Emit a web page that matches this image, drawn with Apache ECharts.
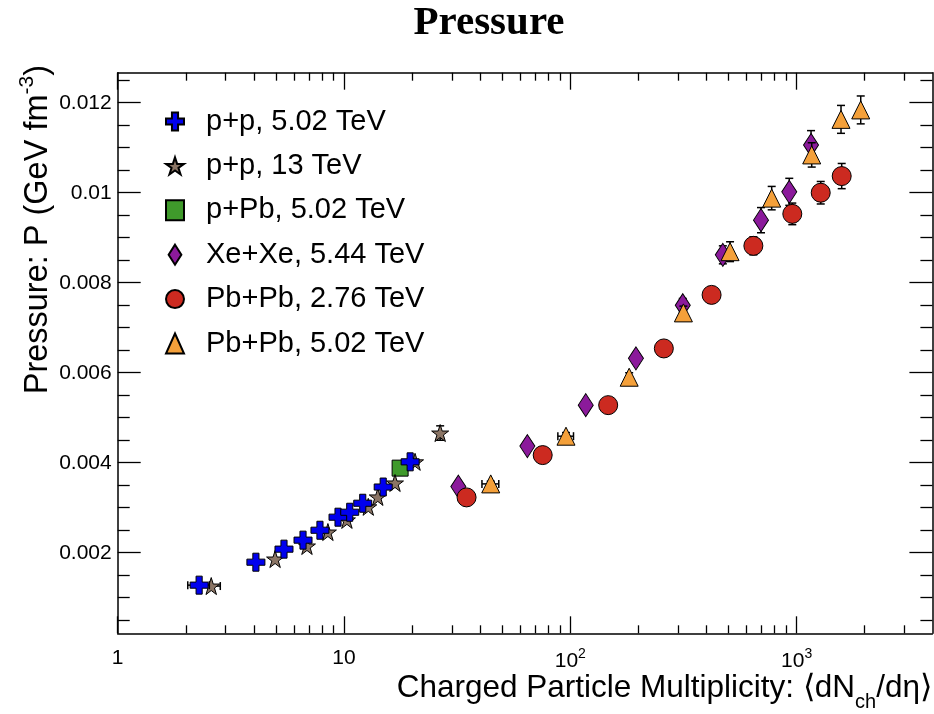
<!DOCTYPE html>
<html><head><meta charset="utf-8">
<script src="https://cdn.jsdelivr.net/npm/echarts@6/dist/echarts.min.js"></script>
<style>html,body{margin:0;padding:0;background:#fff}#c{width:934px;height:714px}</style>
</head><body><div id="c"></div>
<script>
// ---------------- data ----------------
const seriesNames = ['p+p, 5.02 TeV','p+p, 13 TeV','p+Pb, 5.02 TeV','Xe+Xe, 5.44 TeV','Pb+Pb, 2.76 TeV','Pb+Pb, 5.02 TeV'];

const pp502X = [2.29, 4.08, 5.43, 6.59, 7.83, 9.41, 10.6, 12.1, 14.9, 19.6];
const pp502Y = [0.00128, 0.00179, 0.00208, 0.00228, 0.00250, 0.00279, 0.00290, 0.00310, 0.00346, 0.00402];
const pp502YErr = [0, 0, 0, 0, 0, 0, 0, 0, 0, 0];
const pp502XErr = [0.25, 0, 0, 0, 0, 0, 0, 0, 0, 0];

const pp13X = [2.59, 4.96, 6.86, 8.49, 10.3, 12.8, 14.1, 16.8, 20.6, 26.6];
const pp13Y = [0.00126, 0.00186, 0.00215, 0.00246, 0.00273, 0.00302, 0.00324, 0.00355, 0.00402, 0.00466];
const pp13YErr = [0, 0, 0, 0, 0, 0, 0, 0, 0, 0.00016];
const pp13XErr = [0.25, 0, 0, 0, 0, 0, 0, 0, 0, 0];

const pPbX = [17.7];
const pPbY = [0.00388];
const pPbYErr = [0];
const pPbXErr = [0];

const xexeX = [32.0, 64.6, 117, 195, 314, 472, 696, 928, 1158];
const xexeY = [0.00347, 0.00437, 0.00528, 0.00632, 0.00750, 0.00862, 0.00939, 0.01002, 0.01106];
const xexeYErr = [0.00006, 0.00008, 0.0001, 0.00012, 0.00015, 0.00020, 0.00028, 0.00030, 0.00032];
const xexeXErr = [0, 0, 0, 0, 0, 0, 0, 0, 0];

const pb276X = [34.8, 75.5, 147, 259, 421, 644, 957, 1278, 1582];
const pb276Y = [0.00323, 0.00417, 0.00528, 0.00654, 0.00773, 0.00882, 0.00953, 0.01000, 0.01037];
const pb276YErr = [0.00006, 0.00008, 0.0001, 0.00013, 0.00018, 0.00020, 0.00024, 0.00025, 0.00028];
const pb276XErr = [0, 0, 0, 0, 0, 0, 0, 0, 0];

const pb502X = [44.5, 95.7, 182, 316, 508, 776, 1166, 1571, 1920];
const pb502Y = [0.00353, 0.00459, 0.00590, 0.00733, 0.00869, 0.00988, 0.01084, 0.01163, 0.01184];
const pb502YErr = [0.00006, 0.00008, 0.0001, 0.00015, 0.00022, 0.00026, 0.00027, 0.00031, 0.00031];
const pb502XErr = [3.8, 7.6, 0, 0, 0, 0, 0, 0, 0];

const xMajorTicks = [1, 10, 100, 1000];
const xMinorTicks = [2,3,4,5,6,7,8,9,20,30,40,50,60,70,80,90,200,300,400,500,600,700,800,900,2000,3000];
const yMajorTicks = [0.002, 0.004, 0.006, 0.008, 0.010, 0.012];
const yMinorTicks = [0.0005,0.001,0.0015,0.0025,0.003,0.0035,0.0045,0.005,0.0055,0.0065,0.007,0.0075,0.0085,0.009,0.0095,0.0105,0.011,0.0115,0.0125];

// ---------------- chart ----------------
const FONT = '"Liberation Sans", Arial, Helvetica, sans-serif';
const X_MIN = 1, X_MAX = Math.pow(10, 3.6);
const Y_MIN = 0.00021, Y_MAX = 0.012667;

const crossPath = 'path://M3.3,0H6.7V3.3H10V6.7H6.7V10H3.3V6.7H0V3.3H3.3Z';
const starPath = 'path://M50,0L61.2,34.6L97.6,34.6L68.1,55.9L79.4,90.5L50,69L20.6,90.5L31.9,55.9L2.4,34.6L38.8,34.6Z';
const tallDiamond = 'path://M7,0L14,11L7,22L0,11Z';

function zip(a, b) { return a.map((v, i) => [v, b[i]]); }
function zip4(a, b, c, d) { return a.map((v, i) => [v, b[i], c[i], d[i]]); }

function seg(x1, y1, x2, y2) {
  return { type: 'line', shape: { x1, y1, x2, y2 }, style: { stroke: '#000', lineWidth: 1.5 } };
}
function renderErr(params, api) {
  const x = api.value(0), y = api.value(1), ey = api.value(2), ex = api.value(3);
  const c = api.coord([x, y]);
  const cap = 4;
  const ch = [];
  if (ey > 0) {
    const t = api.coord([x, y + ey]), b = api.coord([x, y - ey]);
    ch.push(seg(c[0], t[1], c[0], b[1]), seg(c[0] - cap, t[1], c[0] + cap, t[1]), seg(c[0] - cap, b[1], c[0] + cap, b[1]));
  }
  if (ex > 0) {
    const l = api.coord([x - ex, y]), r = api.coord([x + ex, y]);
    ch.push(seg(l[0], c[1], r[0], c[1]), seg(l[0], c[1] - cap, l[0], c[1] + cap), seg(r[0], c[1] - cap, r[0], c[1] + cap));
  }
  return { type: 'group', children: ch };
}
function errSeries(xs, ys, ye, xe, z) {
  return { type: 'custom', renderItem: renderErr, data: zip4(xs, ys, ye, xe), encode: { x: 0, y: 1 },
    z: z, silent: true, clip: false };
}
function scat(name, xs, ys, symbol, size, color, z) {
  return { type: 'scatter', name, data: zip(xs, ys), symbol, symbolSize: size, z: z,
    itemStyle: { color, borderColor: '#000', borderWidth: 1, opacity: 1 },
    emphasis: { disabled: true }, silent: true };
}

const colors = { pp502: '#0000ee', pp13: '#8b7565', pPb: '#3f9a2b', xexe: '#8b1a9b', pb276: '#cc2a20', pb502: '#f4a03a' };

const baseAxis = { splitLine: { show: false }, minorTick: { show: false }, minorSplitLine: { show: false } };
function xAx(pos, major) {
  return Object.assign({}, baseAxis, {
    type: 'log', logBase: 10, min: X_MIN, max: X_MAX, position: pos,
    axisLine: { show: major, onZero: false, lineStyle: { color: '#000', width: 1.5 } },
    axisTick: { show: true, inside: true, length: major ? 17 : 8, customValues: major ? xMajorTicks : xMinorTicks,
      lineStyle: { color: '#000', width: 1.3 } },
    axisLabel: (pos === 'bottom' && major) ? {
      show: true, customValues: xMajorTicks, margin: 14, color: '#000', fontSize: 21, fontFamily: FONT,
      formatter: v => v < 100 ? String(Math.round(v)) : '10{sup|' + Math.round(Math.log10(v)) + '}',
      rich: { sup: { fontSize: 14, fontFamily: FONT, color: '#000', padding: [0, 0, 14, 0] } }
    } : { show: false }
  });
}
function yAx(pos, major) {
  return Object.assign({}, baseAxis, {
    type: 'value', min: Y_MIN, max: Y_MAX, position: pos,
    axisLine: { show: major, onZero: false, lineStyle: { color: '#000', width: 1.5 } },
    axisTick: { show: true, inside: true, length: major ? 23 : 12, customValues: major ? yMajorTicks : yMinorTicks,
      lineStyle: { color: '#000', width: 1.3 } },
    axisLabel: (pos === 'left' && major) ? {
      show: true, customValues: yMajorTicks, margin: 6, color: '#000', fontSize: 21, fontFamily: FONT,
      formatter: v => String(+v.toFixed(4))
    } : { show: false }
  });
}

const legendItems = seriesNames.map((n, i) => i === 3 ? { name: n, icon: tallDiamond } : { name: n });

const option = {
  animation: false,
  backgroundColor: '#fff',
  grid: { left: 117.7, right: 934 - 932.4, top: 72.7, bottom: 714 - 633.3, containLabel: false, outerBoundsMode: 'none' },
  xAxis: [xAx('bottom', true), xAx('bottom', false), xAx('top', true), xAx('top', false)],
  yAxis: [yAx('left', true), yAx('left', false), yAx('right', true), yAx('right', false)],
  legend: {
    data: legendItems, orient: 'vertical', left: 160, top: 102, itemWidth: 18, itemHeight: 20, itemGap: 15.4,
    selectedMode: false,
    textStyle: { fontSize: 29, fontFamily: FONT, color: '#000', lineHeight: 28, padding: [0, 0, 0, 17] }
  },
  graphic: [
    { type: 'text', x: 489, y: 23, style: { text: 'Pressure', fontSize: 41, fontWeight: 'bold', fontFamily: '"Liberation Serif", "Times New Roman", serif',
      fill: '#000', align: 'center', verticalAlign: 'middle' } },
    { type: 'text', x: 932, y: 688, style: { text: 'Charged Particle Multiplicity: \u27E8dN{sub|ch}/d\u03B7\u27E9', fontSize: 31.5, fontFamily: FONT,
      fill: '#000', align: 'right', verticalAlign: 'middle',
      rich: { sub: { fontSize: 20, fontFamily: FONT, fill: '#000', padding: [28, 0, 0, 0] } } } },
    { type: 'text', x: 38, y: 65, rotation: Math.PI / 2, style: { text: 'Pressure: P (GeV fm{sup|-3})', fontSize: 32.5, fontFamily: FONT,
      fill: '#000', align: 'right', verticalAlign: 'middle',
      rich: { sup: { fontSize: 21, fontFamily: FONT, fill: '#000', padding: [0, 0, 22, 0] } } } }
  ],
  series: [
    errSeries(pPbX, pPbY, pPbYErr, pPbXErr, 2),
    scat(seriesNames[2], pPbX, pPbY, 'rect', 16, colors.pPb, 3),
    errSeries(pp13X, pp13Y, pp13YErr, pp13XErr, 4),
    scat(seriesNames[1], pp13X, pp13Y, starPath, 17, colors.pp13, 5),
    errSeries(pp502X, pp502Y, pp502YErr, pp502XErr, 6),
    scat(seriesNames[0], pp502X, pp502Y, crossPath, 18, colors.pp502, 7),
    errSeries(xexeX, xexeY, xexeYErr, xexeXErr, 8),
    scat(seriesNames[3], xexeX, xexeY, 'diamond', [15, 23], colors.xexe, 9),
    errSeries(pb276X, pb276Y, pb276YErr, pb276XErr, 10),
    scat(seriesNames[4], pb276X, pb276Y, 'circle', 19, colors.pb276, 11),
    errSeries(pb502X, pb502Y, pb502YErr, pb502XErr, 12),
    scat(seriesNames[5], pb502X, pb502Y, 'triangle', 18, colors.pb502, 13)
  ]
};
const chart = echarts.init(document.getElementById('c'), null, { renderer: 'canvas' });
chart.setOption(option);
</script>
</body></html>
